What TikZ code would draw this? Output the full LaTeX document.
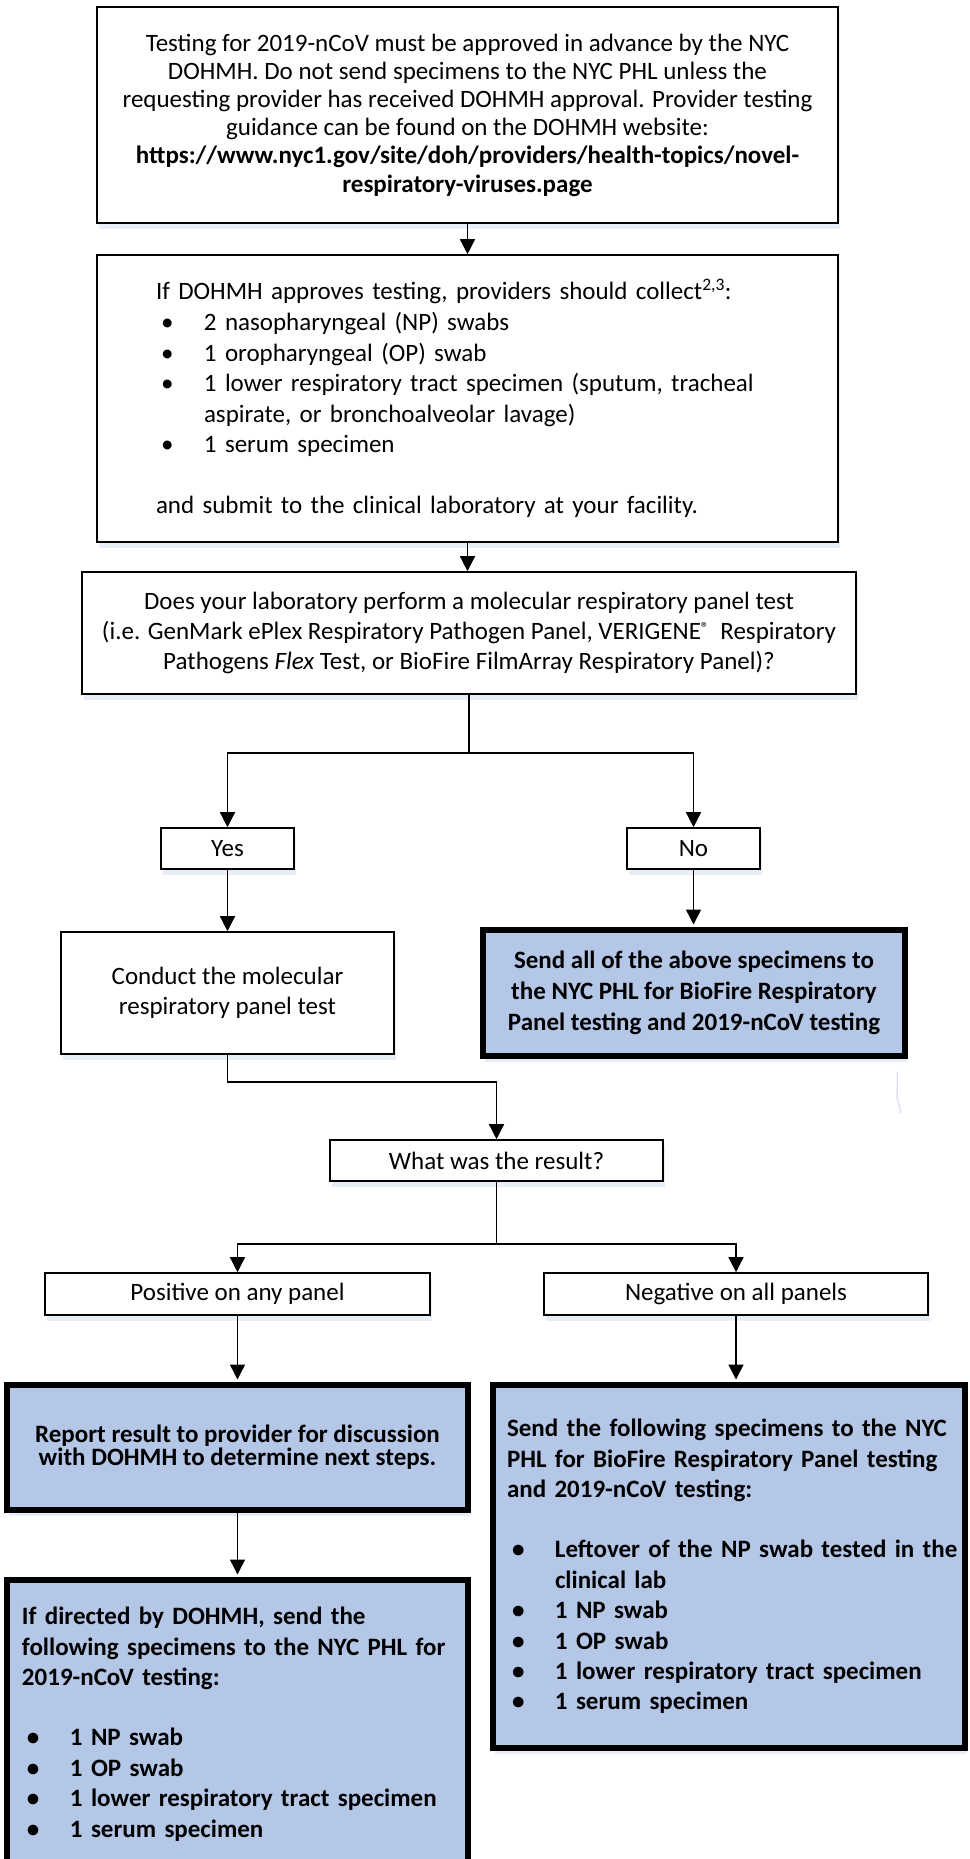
\documentclass[tikz,border=0pt]{standalone}
\usepackage{fontspec}
\setmainfont{Carlito}
\usetikzlibrary{arrows.meta,shadows}
\definecolor{boxblue}{HTML}{B4C7E7}
\definecolor{shadecol}{rgb}{0.91,0.93,0.97}
\definecolor{ghostcol}{HTML}{DCE3EF}
\newcommand\bitem{\hspace*{5pt}\makebox[43pt][l]{•}}
\newcommand\bcont{\hspace*{48pt}}
\newcommand\regmark{\raisebox{6pt}{\fontsize{16}{16}\selectfont ®}}
\begin{document}
\begin{tikzpicture}[x=1pt,y=-1pt,
  base/.style={draw=black, line width=1.6pt, inner sep=2pt, fill=white,
    font=\fontsize{25}{30}\selectfont,
    drop shadow={shadow xshift=2pt, shadow yshift=-6pt, fill=shadecol, opacity=1}},
  thick box/.style={base, line width=6pt, fill=boxblue},
  arr/.style={-{Triangle[length=15pt,width=15pt]}, line width=1.4pt},
  plain/.style={line width=1.4pt}]
\useasboundingbox (0,0) rectangle (969,1859);
\clip (0,0) rectangle (969,1859);
\fill[white] (0,0) rectangle (969,1859);

\node[base, minimum width=741pt, minimum height=216pt, align=center,
  font=\fontsize{25}{28.2}\selectfont] (b1) at (467.5,115)
  {Testing for 2019-nCoV must be approved in advance by the NYC\\
   DOHMH. Do not send specimens to the NYC PHL unless the\\
   requesting provider has received DOHMH approval. Provider testing\\
   guidance can be found on the DOHMH website:\\
   \textbf{https://www.nyc1.gov/site/doh/providers/health-topics/novel-}\\
   \textbf{respiratory-viruses.page}};

\node[base, minimum width=741pt, minimum height=287pt, text width=737pt,
  inner xsep=2pt, align=left, font=\fontsize{25}{30.6}\selectfont] (b2) at (467.5,398.5)
  {\leftskip=57pt If DOHMH approves testing, providers should collect\textsuperscript{2,3}:\\
   \bitem 2 nasopharyngeal (NP) swabs\\
   \bitem 1 oropharyngeal (OP) swab\\
   \bitem 1 lower respiratory tract specimen (sputum, tracheal\\
   \bcont aspirate, or bronchoalveolar lavage)\\
   \bitem 1 serum specimen\\[30pt]
   and submit to the clinical laboratory at your facility.\par};

\node[base, minimum width=774pt, minimum height=122pt, align=center] (b3) at (469,633)
  {Does your laboratory perform a molecular respiratory panel test\\
   (i.e. GenMark ePlex Respiratory Pathogen Panel, VERIGENE\regmark\ \ Respiratory\\
   Pathogens \textit{Flex} Test, or BioFire FilmArray Respiratory Panel)?};

\node[base, minimum width=133pt, minimum height=41pt] (yes) at (227.5,848.5) {Yes};
\node[base, minimum width=133pt, minimum height=41pt] (no) at (693.5,848.5) {No};

\node[base, minimum width=333pt, minimum height=122pt, align=center] (conduct) at (227.5,993)
  {Conduct the molecular\\respiratory panel test};

\node[thick box, minimum width=422pt, minimum height=126pt, align=center,
  font=\fontsize{25}{31}\selectfont\bfseries] (blue1) at (694,993)
  {Send all of the above specimens to\\
   the NYC PHL for BioFire Respiratory\\
   Panel testing and 2019-nCoV testing};

\node[base, minimum width=333pt, minimum height=41pt] (what) at (496.5,1160.5) {What was the result?};

\node[base, minimum width=385pt, minimum height=42pt] (pos) at (237.5,1294) {Positive on any panel};
\node[base, minimum width=384pt, minimum height=42pt] (neg) at (736,1294) {Negative on all panels};

\node[thick box, minimum width=461pt, minimum height=125pt, align=center,
  font=\fontsize{25}{23.3}\selectfont\bfseries] (report) at (237.5,1447.5)
  {Report result to provider for discussion\\
   with DOHMH to determine next steps.};

\node[thick box, minimum width=472pt, minimum height=363pt, text width=468pt,
  inner xsep=2pt, align=left, font=\fontsize{25}{30.4}\selectfont\bfseries] (send) at (729,1566.5)
  {\leftskip=12pt Send the following specimens to the NYC\\
   PHL for BioFire Respiratory Panel testing\\
   and 2019-nCoV testing:\\[30pt]
   \bitem Leftover of the NP swab tested in the\\
   \bcont clinical lab\\
   \bitem 1 NP swab\\
   \bitem 1 OP swab\\
   \bitem 1 lower respiratory tract specimen\\
   \bitem 1 serum specimen\par};

\node[thick box, minimum width=461pt, minimum height=288pt, text width=457pt,
  inner xsep=2pt, align=left, font=\fontsize{25}{30.4}\selectfont\bfseries] (directed) at (237.5,1724)
  {\leftskip=13pt If directed by DOHMH, send the\\
   following specimens to the NYC PHL for\\
   2019-nCoV testing:\\[30pt]
   \bitem 1 NP swab\\
   \bitem 1 OP swab\\
   \bitem 1 lower respiratory tract specimen\\
   \bitem 1 serum specimen\par};

\coordinate (j1) at (469,753);
\coordinate (j2) at (227.5,1082);
\coordinate (j3) at (496.5,1244);

\draw[arr] (b1.south) -- (b2.north);
\draw[arr] (b2.south) -- (b2.south |- b3.north);
\draw[plain] (b3.south) -- (j1);
\draw[arr] (j1) -| (yes.north);
\draw[arr] (j1) -| (no.north);
\draw[arr] (yes.south) -- (conduct.north);
\draw[arr, shorten >=2.5pt] (no.south) -- (no.south |- blue1.north);
\draw[arr] (conduct.south) -- (j2) -| (what.north);
\draw[plain] (what.south) -- (j3);
\draw[arr] (j3) -| (pos.north);
\draw[arr] (j3) -| (neg.north);
\draw[arr, shorten >=2.5pt] (pos.south) -- (report.north);
\draw[arr, shorten >=2.5pt] (neg.south) -- (neg.south |- send.north);
\draw[arr, shorten >=2.5pt] (report.south) -- (directed.north);

\draw[ghostcol, line width=1.5pt] (897.5,1072) -- (897,1097) -- (901,1113);
\end{tikzpicture}
\end{document}
